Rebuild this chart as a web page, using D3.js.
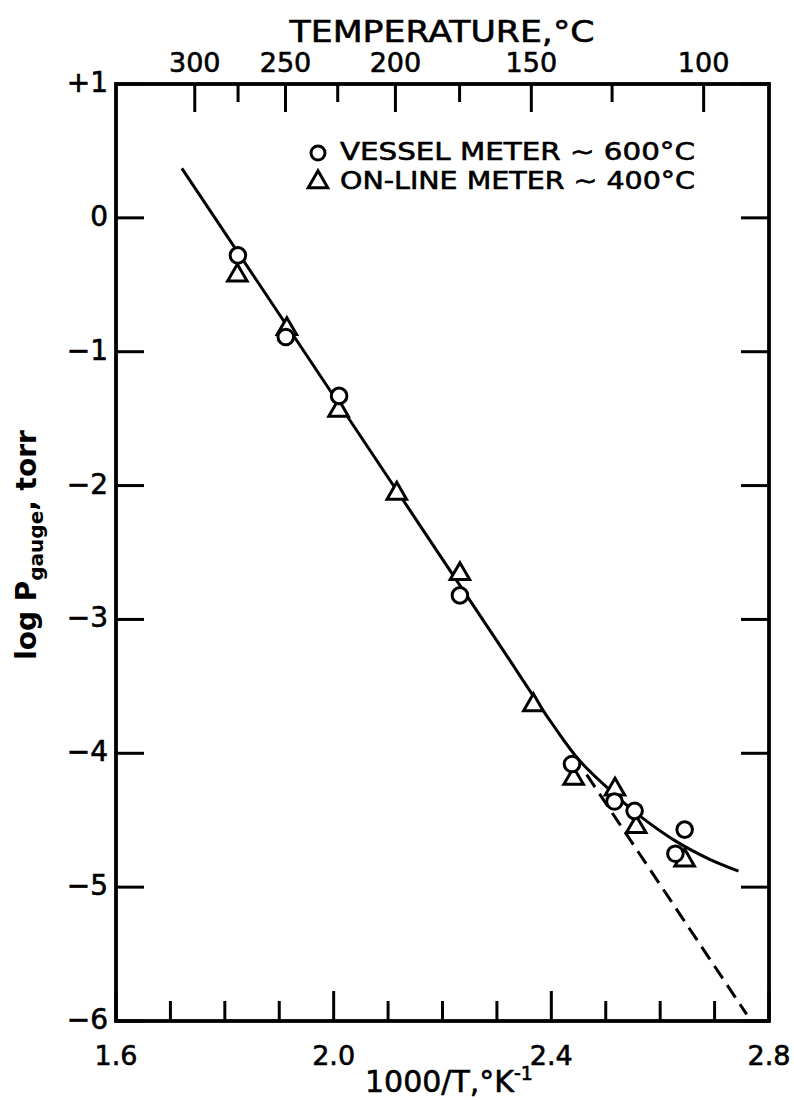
<!DOCTYPE html>
<html><head><meta charset="utf-8">
<script src="https://cdn.jsdelivr.net/npm/d3@7/dist/d3.min.js"></script>
<style>body{margin:0;background:#fff}</style>
</head><body>
<svg id="c" width="794" height="1100" xmlns="http://www.w3.org/2000/svg"></svg>
<script>
// ---- data ----
const vesselX = [1.824, 1.912, 2.010, 2.232, 2.438, 2.516, 2.553, 2.628, 2.645];
const vesselY = [-0.28, -0.89, -1.33, -2.82, -4.08, -4.36, -4.43, -4.75, -4.57];
const onlineX = [1.823, 1.914, 2.009, 2.116, 2.232, 2.367, 2.441, 2.517, 2.556, 2.645];
const onlineY = [-0.43, -0.83, -1.44, -2.06, -2.66, -3.64, -4.19, -4.27, -4.55, -4.80];
const fitX = [1.721, 1.9, 2.1, 2.3, 2.4, 2.453, 2.52, 2.56, 2.63, 2.69, 2.744];
const fitY = [0.37, -0.72, -1.94, -3.16, -3.77, -4.06, -4.32, -4.46, -4.66, -4.79, -4.88];
const extrapX = [2.465, 2.759];
const extrapY = [-4.16, -5.95];
const xTickValues = [1.6, 1.7, 1.8, 1.9, 2.0, 2.1, 2.2, 2.3, 2.4, 2.5, 2.6, 2.7, 2.8];
const xTickLabels = ["1.6", "2.0", "2.4", "2.8"];
const xLabelValues = [1.6, 2.0, 2.4, 2.8];
const yTickValues = [1, 0, -1, -2, -3, -4, -5, -6];
const yTickLabels = ["+1", "0", "\u22121", "\u22122", "\u22123", "\u22124", "\u22125", "\u22126"];
const topTempMajor = [300, 250, 200, 150, 100];
const topTempMinor = [275, 225, 175, 125];
const topTempLabels = ["300", "250", "200", "150", "100"];
const legendLabels = ["VESSEL METER \u223C 600\u00B0C", "ON-LINE METER \u223C 400\u00B0C"];

// ---- layout ----
const L = 116, R = 769, T = 84, B = 1021;
const FONT = "DejaVu Sans, Liberation Sans, sans-serif";
const SW = 3;
const svg = d3.select("#c");
const x = d3.scaleLinear().domain([1.6, 2.8]).range([L, R]);
const y = d3.scaleLinear().domain([-6, 1]).range([B, T]);
const xT = c => x(1000 / (c + 273.15));

const g = svg.append("g");

function heavy(sel) { return sel.attr("stroke", "#000").attr("stroke-width", 0.6); }

// frame
g.append("rect").attr("x", L).attr("y", T).attr("width", R - L).attr("height", B - T)
  .attr("fill", "none").attr("stroke", "#000").attr("stroke-width", 3.8);

// bottom ticks
g.selectAll(".xt").data(xTickValues).join("line")
  .attr("x1", d => x(d)).attr("x2", d => x(d))
  .attr("y1", B).attr("y2", d => B - (xLabelValues.some(v => Math.abs(v - d) < 1e-6) ? 30 : 20))
  .attr("stroke", "#000").attr("stroke-width", SW);
heavy(g.selectAll(".xl").data(xLabelValues).join("text")
  .attr("x", d => x(d)).attr("y", 1057).attr("text-anchor", "middle")
  .attr("dominant-baseline", "middle")
  .attr("font-family", FONT).attr("font-size", 27)
  .text((d, i) => xTickLabels[i]));

// left & right ticks
g.selectAll(".yl").data(yTickValues).join("line")
  .attr("x1", L).attr("x2", L + 28).attr("y1", d => y(d)).attr("y2", d => y(d))
  .attr("stroke", "#000").attr("stroke-width", SW);
g.selectAll(".yr").data(yTickValues).join("line")
  .attr("x1", R).attr("x2", R - 28).attr("y1", d => y(d)).attr("y2", d => y(d))
  .attr("stroke", "#000").attr("stroke-width", SW);
heavy(g.selectAll(".ylab").data(yTickValues).join("text")
  .attr("x", 108).attr("y", d => y(d)).attr("text-anchor", "end")
  .attr("dominant-baseline", "middle")
  .attr("font-family", FONT).attr("font-size", 28)
  .text((d, i) => yTickLabels[i]));

// top ticks (temperature)
g.selectAll(".tmaj").data(topTempMajor).join("line")
  .attr("x1", d => xT(d)).attr("x2", d => xT(d)).attr("y1", T).attr("y2", T + 28)
  .attr("stroke", "#000").attr("stroke-width", SW);
g.selectAll(".tmin").data(topTempMinor).join("line")
  .attr("x1", d => xT(d)).attr("x2", d => xT(d)).attr("y1", T).attr("y2", T + 18)
  .attr("stroke", "#000").attr("stroke-width", SW);
heavy(g.selectAll(".tlab").data(topTempMajor).join("text")
  .attr("x", d => xT(d)).attr("y", 64).attr("text-anchor", "middle")
  .attr("dominant-baseline", "middle")
  .attr("font-family", FONT).attr("font-size", 27)
  .text((d, i) => topTempLabels[i]));

// titles
heavy(g.append("text").attr("x", 442).attr("y", 42).attr("text-anchor", "middle")
  .attr("font-family", FONT).attr("font-size", 31)
  .attr("textLength", 305).attr("lengthAdjust", "spacingAndGlyphs")
  .text("TEMPERATURE,\u00B0C"));

const bt = heavy(g.append("text").attr("x", 449).attr("y", 1092).attr("text-anchor", "middle")
  .attr("font-family", FONT).attr("font-size", 30));
bt.append("tspan").text("1000/T,\u00B0K");
bt.append("tspan").attr("dy", -12).attr("font-size", 19).text("-1");

const yt = g.append("text").attr("transform", "translate(36,545) rotate(-90)")
  .attr("text-anchor", "middle").attr("font-family", FONT).attr("font-size", 28)
  .attr("font-weight", "bold");
yt.append("tspan").text("log P");
yt.append("tspan").attr("dy", 7).attr("font-size", 20).text("gauge");
yt.append("tspan").attr("dy", -7).text(", torr");

// fit curve and extrapolation
const fit = fitX.map((v, i) => [v, fitY[i]]);
const line = d3.line().x(d => x(d[0])).y(d => y(d[1])).curve(d3.curveCatmullRom.alpha(0.5));
g.append("path").attr("d", line(fit)).attr("fill", "none")
  .attr("stroke", "#000").attr("stroke-width", SW);
const ext = extrapX.map((v, i) => [v, extrapY[i]]);
g.append("path").attr("d", d3.line().x(d => x(d[0])).y(d => y(d[1]))(ext))
  .attr("fill", "none").attr("stroke", "#000").attr("stroke-width", SW)
  .attr("stroke-dasharray", "15,8");

// markers
const tri = d3.symbol().type(d3.symbolTriangle).size(165);
const online = onlineX.map((v, i) => [v, onlineY[i]]);
const vessel = vesselX.map((v, i) => [v, vesselY[i]]);
g.selectAll(".tri").data(online).join("path")
  .attr("d", tri).attr("transform", d => `translate(${x(d[0])},${y(d[1])})`)
  .attr("fill", "#fff").attr("stroke", "#000").attr("stroke-width", SW);
g.selectAll(".cir").data(vessel).join("circle")
  .attr("cx", d => x(d[0])).attr("cy", d => y(d[1])).attr("r", 7.8)
  .attr("fill", "#fff").attr("stroke", "#000").attr("stroke-width", SW);

// legend
const lg = g.append("g");
lg.append("circle").attr("cx", 318).attr("cy", 153).attr("r", 7)
  .attr("fill", "#fff").attr("stroke", "#000").attr("stroke-width", SW);
lg.append("path").attr("d", tri).attr("transform", "translate(318,182)")
  .attr("fill", "#fff").attr("stroke", "#000").attr("stroke-width", SW);
heavy(lg.selectAll(".lt").data(legendLabels).join("text")
  .attr("x", 340).attr("y", (d, i) => 153 + i * 29).attr("dominant-baseline", "middle")
  .attr("font-family", FONT).attr("font-size", 24)
  .attr("textLength", 355).attr("lengthAdjust", "spacingAndGlyphs")
  .text(d => d));
</script>
</body></html>
